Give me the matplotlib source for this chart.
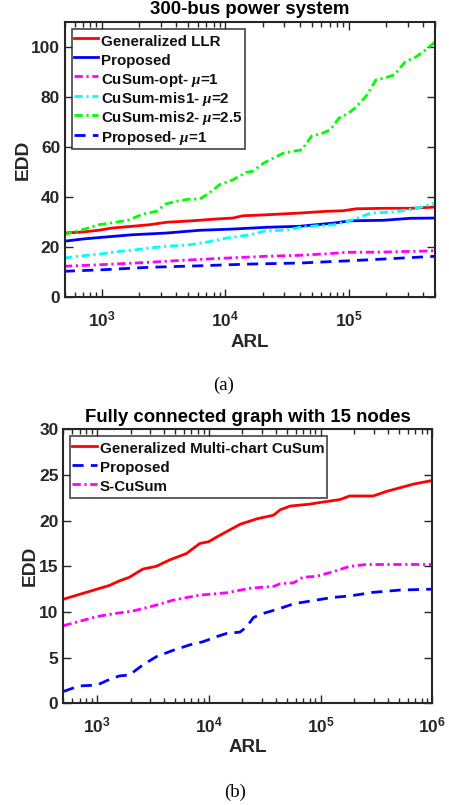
import numpy as np
import matplotlib
matplotlib.use("Agg")
import matplotlib.pyplot as plt
from matplotlib.ticker import LogLocator, FuncFormatter, NullFormatter

plt.rcParams['font.family'] = ['Liberation Sans', 'DejaVu Sans']
plt.rcParams['font.weight'] = 'bold'
plt.rcParams['mathtext.fontset'] = 'custom'
plt.rcParams['mathtext.rm'] = 'Liberation Sans:bold'
plt.rcParams['mathtext.bf'] = 'Liberation Sans:bold'
plt.rcParams['mathtext.it'] = 'Liberation Serif:italic'

# ---------- (a) 300-bus power system ----------
a_title = "300-bus power system"
llr_exp = [2.69, 2.84, 2.97, 3.08, 3.24, 3.38, 3.52, 3.73, 3.92, 4.06, 4.14, 4.33, 4.60, 4.82, 4.95, 5.06, 5.28, 5.50, 5.70]
llr_edd = [25.6, 26.0, 26.7, 27.6, 28.3, 28.9, 29.9, 30.5, 31.2, 31.6, 32.5, 32.9, 33.6, 34.3, 34.5, 35.3, 35.5, 35.5, 36.0]

prop_exp = [2.69, 2.84, 3.00, 3.24, 3.52, 3.79, 4.06, 4.33, 4.60, 4.88, 5.01, 5.28, 5.50, 5.70]
prop_edd = [22.3, 23.2, 23.9, 24.9, 25.6, 26.7, 27.2, 27.9, 28.3, 29.6, 30.5, 30.7, 31.5, 31.6]

opt_exp = [2.69, 2.97, 3.38, 3.65, 4.01, 4.33, 4.60, 4.82, 4.99, 5.28, 5.70]
opt_edd = [12.3, 12.9, 13.9, 14.7, 15.6, 16.3, 16.7, 17.3, 17.9, 18.0, 18.5]

mis1_exp = [2.69, 2.84, 3.00, 3.14, 3.24, 3.38, 3.52, 3.71, 3.84, 4.01, 4.20, 4.31, 4.52, 4.60, 4.74, 4.88, 4.99, 5.07, 5.18, 5.37, 5.48, 5.59, 5.70]
mis1_edd = [15.6, 16.5, 17.3, 18.3, 18.7, 19.6, 20.3, 20.9, 21.9, 23.6, 24.9, 26.3, 26.9, 27.9, 28.5, 28.9, 30.3, 31.6, 33.6, 34.0, 34.9, 36.0, 37.6]

mis2_exp = [2.69, 2.84, 2.97, 3.11, 3.22, 3.33, 3.44, 3.52, 3.60, 3.71, 3.79, 3.87, 3.95, 4.06, 4.17, 4.22, 4.31, 4.39, 4.47, 4.55, 4.62, 4.70, 4.77, 4.85, 4.92, 5.00, 5.05, 5.14, 5.22, 5.29, 5.37, 5.46, 5.53, 5.59, 5.70]
mis2_edd = [25.0, 26.9, 28.9, 29.9, 30.9, 33.2, 34.3, 37.3, 38.3, 39.2, 39.2, 41.6, 44.9, 46.9, 49.9, 50.3, 53.6, 55.6, 57.6, 58.3, 58.9, 64.5, 65.2, 66.9, 71.6, 73.6, 75.6, 80.3, 86.9, 87.6, 88.9, 94.3, 95.6, 97.6, 102.0]

pmu_exp = [2.69, 3.00, 3.38, 3.79, 4.20, 4.60, 5.00, 5.28, 5.70]
pmu_edd = [10.3, 10.9, 11.9, 12.5, 13.2, 13.6, 14.5, 15.2, 16.3]

a_labels = ["Generalized LLR", "Proposed", r"CuSum-opt- $\mu$=1",
            r"CuSum-mis1- $\mu$=2", r"CuSum-mis2- $\mu$=2.5", r"Proposed- $\mu$=1"]

# ---------- (b) Fully connected graph ----------
b_title = "Fully connected graph with 15 nodes"
gm_exp = [2.70, 3.00, 3.11, 3.20, 3.29, 3.41, 3.53, 3.65, 3.80, 3.92, 4.00, 4.07, 4.19, 4.28, 4.43, 4.58, 4.64, 4.73, 4.90, 5.00, 5.17, 5.26, 5.47, 5.59, 5.71, 5.83, 6.00]
gm_edd = [11.4, 12.5, 12.9, 13.4, 13.8, 14.7, 15.0, 15.7, 16.4, 17.5, 17.7, 18.2, 19.0, 19.6, 20.2, 20.6, 21.2, 21.6, 21.8, 22.0, 22.3, 22.7, 22.7, 23.2, 23.6, 24.0, 24.4]

bp_exp = [2.70, 2.84, 3.00, 3.11, 3.20, 3.29, 3.41, 3.53, 3.68, 3.83, 3.95, 4.07, 4.16, 4.28, 4.34, 4.40, 4.49, 4.64, 4.76, 4.96, 5.11, 5.26, 5.47, 5.71, 6.00]
bp_edd = [1.3, 1.9, 2.0, 2.6, 3.0, 3.1, 4.2, 5.1, 5.8, 6.4, 6.75, 7.3, 7.65, 7.8, 8.4, 9.4, 9.85, 10.4, 10.9, 11.3, 11.6, 11.75, 12.15, 12.4, 12.5]

sc_exp = [2.70, 3.00, 3.17, 3.32, 3.53, 3.68, 3.92, 4.16, 4.37, 4.58, 4.64, 4.76, 4.84, 4.96, 5.11, 5.26, 5.41, 6.00]
sc_edd = [8.5, 9.5, 9.85, 10.1, 10.75, 11.3, 11.85, 12.1, 12.6, 12.8, 13.1, 13.2, 13.8, 13.9, 14.4, 15.0, 15.2, 15.2]

b_labels = ["Generalized Multi-chart CuSum", "Proposed", "S-CuSum"]

fig = plt.figure(figsize=(4.49, 8.05), dpi=100)
ax1 = fig.add_axes([0.1448, 0.631, 0.824, 0.3416])
ax2 = fig.add_axes([0.141, 0.1263, 0.822, 0.3404])

lw = 2.0
dd = (0, (3.0, 1.3, 0.8, 1.3))
ds = (0, (4.0, 2.6))
ax1.plot(np.power(10.0, llr_exp), llr_edd, color='#ff0000', lw=lw, label=a_labels[0])
ax1.plot(np.power(10.0, prop_exp), prop_edd, color='#0000ff', lw=lw, label=a_labels[1])
ax1.plot(np.power(10.0, opt_exp), opt_edd, color='#ff00ff', lw=lw, ls=dd, label=a_labels[2])
ax1.plot(np.power(10.0, mis1_exp), mis1_edd, color='#00ffff', lw=lw, ls=dd, label=a_labels[3])
ax1.plot(np.power(10.0, mis2_exp), mis2_edd, color='#00ff00', lw=lw, ls=dd, label=a_labels[4])
ax1.plot(np.power(10.0, pmu_exp), pmu_edd, color='#0000ff', lw=lw, ls=ds, label=a_labels[5])

ax2.plot(np.power(10.0, gm_exp), gm_edd, color='#ff0000', lw=lw, label=b_labels[0])
ax2.plot(np.power(10.0, bp_exp), bp_edd, color='#0000ff', lw=lw, ls=ds, label=b_labels[1])
ax2.plot(np.power(10.0, sc_exp), sc_edd, color='#ff00ff', lw=lw, ls=dd, label=b_labels[2])

fmt = FuncFormatter(lambda v, p: r'$\mathbf{10^{%d}}$' % int(round(np.log10(v))))

setup = [(ax1, a_title, 5e5, 110, [0, 20, 40, 60, 80, 100], -0.1135, -0.167),
         (ax2, b_title, 1e6, 30, [0, 5, 10, 15, 20, 25, 30], -0.090, -0.163)]
for ax, title, xmax, ymax, yticks, ylx, xly in setup:
    ax.set_xscale('log')
    ax.set_xlim(500, xmax)
    ax.set_ylim(0, ymax)
    ax.set_yticks(yticks)
    ax.xaxis.set_major_locator(LogLocator(base=10, numticks=10))
    ax.xaxis.set_minor_locator(LogLocator(base=10, subs=np.arange(2, 10), numticks=20))
    ax.xaxis.set_major_formatter(fmt)
    ax.xaxis.set_minor_formatter(NullFormatter())
    ax.tick_params(which='both', direction='in', top=True, right=True, color='#262626')
    ax.tick_params(which='major', length=6, width=1.0, labelsize=12.5, colors='#262626', labelcolor='#262626')
    ax.tick_params(axis='x', which='major', pad=9)
    ax.tick_params(which='minor', length=3.5, width=1.0)
    for s in ax.spines.values():
        s.set_linewidth(1.5)
        s.set_color('#262626')
    for t in ax.get_yticklabels():
        t.set_fontweight('bold')
    ax.set_title(title, fontsize=13.4, fontweight='bold', pad=5.5)
    ax.set_xlabel('ARL', fontsize=13.5, fontweight='bold', color='#262626', va='center')
    ax.set_ylabel('EDD', fontsize=13.8, fontweight='bold', color='#262626', va='center')
    ax.xaxis.set_label_coords(0.5, xly)
    ax.yaxis.set_label_coords(ylx, 0.5)
    leg = ax.legend(loc='upper left', fontsize=10.9, frameon=True, fancybox=False,
                    handlelength=1.6, handleheight=1.55, handletextpad=0.2, borderpad=0.15,
                    labelspacing=0.0, borderaxespad=0.45)
    leg.get_frame().set_edgecolor('#262626')
    leg.get_frame().set_linewidth(1.3)
    for t in leg.get_texts():
        t.set_fontweight('bold')
        t.set_color('#111111')

fig.text(224 / 449, 1 - 385 / 805, '(a)', family='Liberation Serif', fontweight='normal', fontsize=13.5, ha='center', va='center')
fig.text(235 / 449, 1 - 792 / 805, '(b)', family='Liberation Serif', fontweight='normal', fontsize=13.5, ha='center', va='center')

fig.savefig('out.png', dpi=100)
